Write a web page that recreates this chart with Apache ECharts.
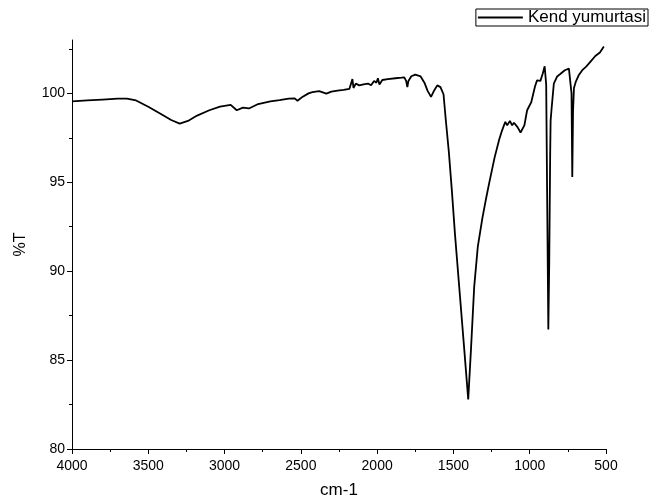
<!DOCTYPE html>
<html>
<head>
<meta charset="utf-8">
<script src="https://cdn.jsdelivr.net/npm/echarts@6/dist/echarts.min.js"></script>
<style>
  html, body { margin: 0; padding: 0; background: #fff; }
  #chart { width: 649px; height: 499px; }
</style>
</head>
<body>
<div id="chart"></div>
<script>
// FTIR spectrum
var wavenumbers = [4000, 3900, 3800, 3700, 3640, 3580, 3500, 3420, 3350, 3294, 3240, 3180, 3100, 3030, 2960, 2920, 2880, 2840, 2780, 2700, 2640, 2580, 2540, 2522, 2490, 2450, 2424, 2380, 2333, 2300, 2260, 2220, 2182, 2170, 2162, 2155, 2140, 2116, 2090, 2060, 2040, 2020, 2005, 1995, 1985, 1966, 1930, 1880, 1840, 1822, 1810, 1802, 1795, 1776, 1750, 1737, 1715, 1690, 1670, 1647, 1630, 1606, 1585, 1565, 1550, 1530, 1510, 1490, 1460, 1430, 1403, 1385, 1364, 1340, 1310, 1288, 1266, 1230, 1200, 1181, 1160, 1148, 1130, 1115, 1103, 1080, 1060, 1050, 1035, 1017, 990, 965, 952, 930, 915, 902, 892, 885, 878, 872, 866, 863, 855, 842, 820, 798, 770, 743, 732, 726, 721, 716, 710, 699, 680, 657, 630, 600, 570, 540, 514];
var transmittance = [99.55, 99.6, 99.65, 99.7, 99.7, 99.6, 99.25, 98.85, 98.5, 98.3, 98.45, 98.75, 99.05, 99.25, 99.35, 99.05, 99.2, 99.15, 99.4, 99.55, 99.62, 99.7, 99.72, 99.58, 99.8, 100.0, 100.07, 100.12, 99.98, 100.1, 100.15, 100.2, 100.25, 100.3, 100.8, 100.3, 100.55, 100.45, 100.5, 100.55, 100.45, 100.7, 100.6, 100.85, 100.5, 100.75, 100.8, 100.85, 100.88, 100.9, 100.7, 100.35, 100.7, 100.96, 101.05, 101.05, 100.95, 100.6, 100.15, 99.8, 100.1, 100.45, 100.35, 99.95, 98.5, 96.7, 94.5, 92.1, 88.9, 85.7, 82.79, 85.6, 89.1, 91.4, 93.0, 94.0, 94.94, 96.4, 97.4, 97.92, 98.4, 98.2, 98.45, 98.2, 98.35, 98.1, 97.8, 97.78, 98.2, 99.05, 99.5, 100.4, 100.73, 100.7, 101.1, 101.52, 100.5, 93.5, 86.72, 90.5, 96.5, 98.48, 99.3, 100.54, 100.95, 101.1, 101.3, 101.39, 101.35, 100.0, 95.3, 99.0, 100.3, 100.63, 101.0, 101.29, 101.5, 101.8, 102.1, 102.3, 102.64];
var yTicks = [80, 85, 90, 95, 100];
var seriesName = 'Kend yumurtasi';

var points = wavenumbers.map(function (w, i) { return [w, transmittance[i]]; });

var myChart = echarts.init(document.getElementById('chart'));
var font = 'Arial, "Liberation Sans", sans-serif';
option = {
    backgroundColor: '#fff',
    animation: false,
    grid: { left: 72, right: 43, top: 40, bottom: 50, outerBoundsMode: 'none' },
    legend: {
        right: 1,
        top: 9,
        padding: [0, 2, 0, 2],
        borderColor: '#000',
        borderWidth: 1,
        itemWidth: 45,
        itemHeight: 2,
        textStyle: { fontFamily: font, fontSize: 17, color: '#000' },
        data: [{ name: seriesName, icon: 'rect' }]
    },
    xAxis: {
        type: 'value',
        inverse: true,
        min: 500,
        max: 4000,
        interval: 500,
        name: 'cm-1',
        nameLocation: 'middle',
        nameGap: 33,
        nameTextStyle: { fontFamily: font, fontSize: 17, color: '#000' },
        axisLine: { show: true, lineStyle: { color: '#000', width: 1 } },
        axisTick: { show: true, length: 5, lineStyle: { color: '#000' } },
        minorTick: { show: true, splitNumber: 2, length: 3, lineStyle: { color: '#000' } },
        axisLabel: {
            fontFamily: font, fontSize: 14, color: '#000', margin: 10,
            formatter: function (v) { return String(v); }
        },
        splitLine: { show: false }
    },
    yAxis: {
        type: 'value',
        min: 80,
        max: 103,
        interval: 5,
        name: '%T',
        nameLocation: 'middle',
        nameGap: 43,
        nameTextStyle: { fontFamily: font, fontSize: 16, color: '#000' },
        axisLine: { show: true, lineStyle: { color: '#000', width: 1 } },
        axisTick: { show: true, length: 5, customValues: yTicks, lineStyle: { color: '#000' } },
        minorTick: { show: true, splitNumber: 2, length: 3, lineStyle: { color: '#000' } },
        axisLabel: { fontFamily: font, fontSize: 14, color: '#000', margin: 7, customValues: yTicks },
        splitLine: { show: false }
    },
    series: [{
        name: seriesName,
        type: 'line',
        data: points,
        showSymbol: false,
        symbol: 'none',
        lineStyle: { color: '#000', width: 1.8 },
        itemStyle: { color: '#000' }
    }]
};
myChart.setOption(option);
window.addEventListener('resize', function () {
    myChart.resize();
});
</script>
</body>
</html>
